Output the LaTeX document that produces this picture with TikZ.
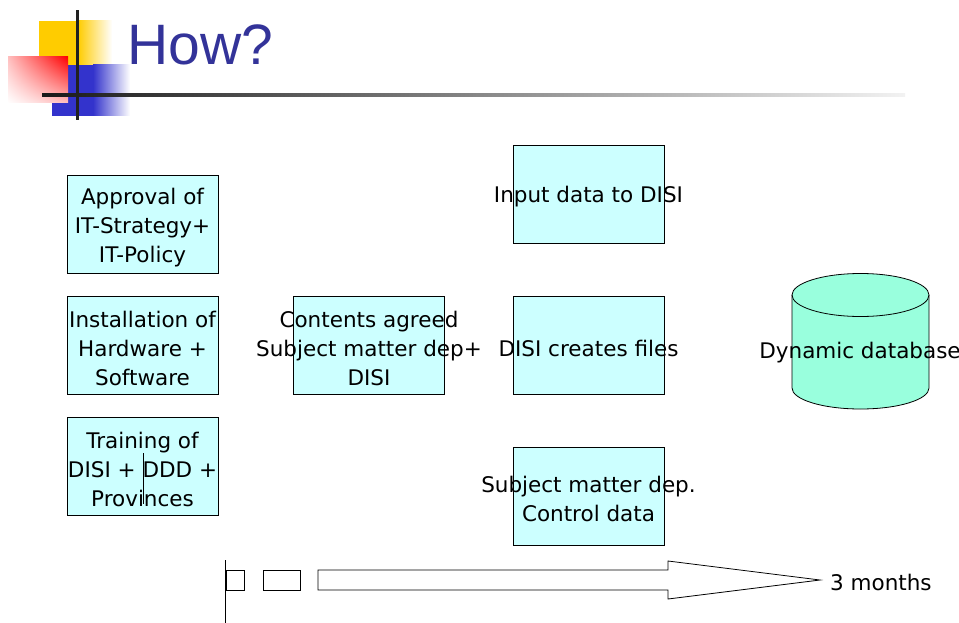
\documentclass[tikz,border=0pt]{standalone}
\usepackage{fontspec}
\setmainfont{DejaVu Sans}
\newfontfamily\titlefont{Liberation Sans}
\definecolor{boxfill}{RGB}{204,255,255}
\definecolor{dbfill}{RGB}{153,255,221}
\definecolor{titleblue}{RGB}{51,51,153}
\definecolor{decoyellow}{RGB}{255,204,0}
\definecolor{decoblue}{RGB}{51,51,204}
\usetikzlibrary{shadings}
\begin{document}
\begin{tikzpicture}[x=1pt,y=-1pt]

                \tikzset{stepbox/.style = {shape=rectangle,draw,line width=0.8pt,fill=boxfill,minimum width=151pt,minimum height=98pt,inner sep=0pt}}
                \tikzset{steptext/.style = {align=center,font=\fontsize{21.5}{29}\selectfont,inner sep=0pt,yshift=-3pt}}
                \useasboundingbox (0,0) rectangle (959,623);
                % title decoration
                \fill[decoyellow] (39,21) rectangle (78,65);
                \shade[left color=decoyellow,right color=white] (78,21) rectangle (112,65);
                \fill[decoblue] (52,65) rectangle (93,116);
                \shade[left color=decoblue,right color=white] (93,65) rectangle (130,116);
                \shade[upper right=red,upper left=red!25!white,lower right=red!25!white,lower left=white] (8,57) rectangle (68,103);
                \shade[left color=black!90,right color=black!5] (42,93.5) rectangle (905,96.5);
                \fill[black!87] (75.5,10) rectangle (78.5,120);
                \node[anchor=base west,text=titleblue,font=\titlefont\fontsize{57}{60}\selectfont,inner sep=0pt] (title) at (127,65) {How?};
                % boxes
                \node[stepbox] (approval) at (142.5,224.5) {};
                \node[steptext] at (approval) {Approval of\\IT-Strategy+\\IT-Policy};
                \node[stepbox] (install) at (142.5,345) {};
                \node[steptext] at (install) {Installation of\\Hardware +\\Software};
                \node[stepbox] (training) at (142.5,466.5) {};
                \node[steptext] at (training) {Training of\\DISI + DDD +\\Provinces};
                \draw ([xshift=0.5pt,yshift=-37pt]training.center) -- ([xshift=0.5pt,yshift=14pt]training.center);
                \node[stepbox] (contents) at (369,345) {};
                \node[steptext] at (contents) {Contents agreed\\Subject matter dep+\\DISI};
                \node[stepbox] (input) at (588.5,194) {};
                \node[steptext] at (input) {Input data to DISI};
                \node[stepbox] (creates) at (588.5,345) {};
                \node[steptext] at (creates) {DISI creates files};
                \node[stepbox] (control) at (588.5,496) {};
                \node[steptext] at (control) {Subject matter dep.\\Control data};
                % database
                \filldraw[line width=0.8pt,fill=dbfill] (792,295) -- (792,388) arc[start angle=180,end angle=360,x radius=68.5,y radius=-21]
                        -- (929,295) arc[start angle=0,end angle=180,x radius=68.5,y radius=-21.5] -- cycle;
                \draw[line width=0.8pt] (792,295) arc[start angle=180,end angle=360,x radius=68.5,y radius=-21.5];
                \node[steptext] (db) at (860,350) {Dynamic database};
                % time line
                \coordinate (axtop) at (225,560);
                \coordinate (axbot) at (225,623);
                \draw[line width=0.8pt] (axtop) -- (axbot);
                \draw[line width=0.8pt] (226,570) rectangle (244,590);
                \draw[line width=0.8pt] (263,570) rectangle (300,590);
                \draw[line width=0.8pt] (318,570) -- (668,570) -- (668,561) -- (820,580) coordinate (tip) -- (668,599) -- (668,590) -- (318,590) -- cycle;
                \node[steptext,anchor=west] (months) at (830,579) {3 months};
            \end{tikzpicture}
\end{document}
